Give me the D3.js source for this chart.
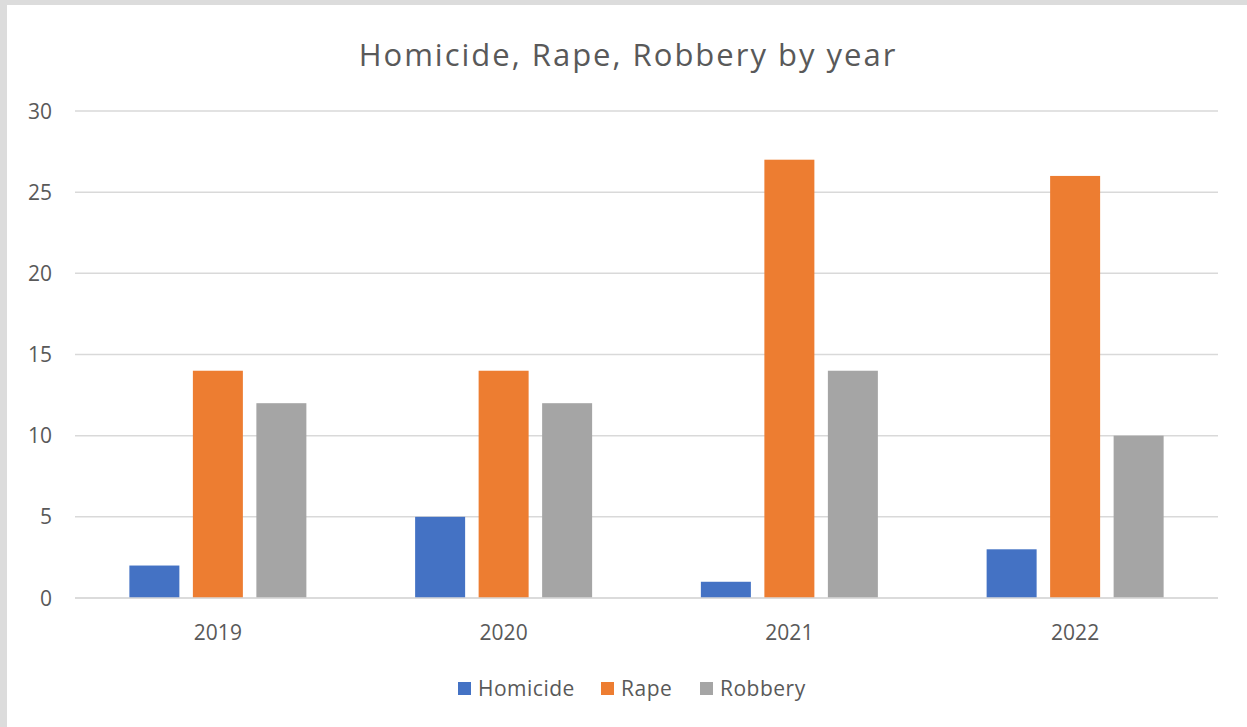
<!DOCTYPE html>
<html><head><meta charset="utf-8">
<script src="https://cdn.jsdelivr.net/npm/d3@7"></script>
<style>body{margin:0;background:#fff;}svg{display:block;}</style>
</head><body>
<svg id="c" width="1247" height="727"></svg>
<script>
const categories = ["2019","2020","2021","2022"];
const seriesNames = ["Homicide","Rape","Robbery"];
const homicide = [2,5,1,3];
const rape = [14,14,27,26];
const robbery = [12,12,14,10];
const yTicks = [0,5,10,15,20,25,30];
const colors = ["#4472C4","#ED7D31","#A5A5A5"];
const values = [homicide, rape, robbery];

(function(){
const svg = d3.select("#c");
const W = 1247, H = 727;
svg.append("rect").attr("width",W).attr("height",H).attr("fill","#dcdcdc");
svg.append("rect").attr("x",7).attr("y",5).attr("width",W-7).attr("height",H-5).attr("fill","#fff");

const font = "'Open Sans', 'Liberation Sans', sans-serif";
const pL = 75, pR = 1218, pT = 111, pB = 598;
const x = d3.scaleBand().domain(categories).range([pL,pR]);
const y = d3.scaleLinear().domain([0,30]).range([pB,pT]);

svg.append("g").selectAll("line").data(yTicks).join("line")
  .attr("x1",pL).attr("x2",pR)
  .attr("y1",d=>y(d)).attr("y2",d=>y(d))
  .attr("stroke","#d9d9d9").attr("stroke-width",1.5);

svg.append("g").selectAll("text").data(yTicks).join("text")
  .attr("x",52).attr("y",d=>y(d)).attr("dy","0.36em")
  .attr("text-anchor","end").attr("font-family",font).attr("font-size",21)
  .attr("fill","#595959").text(d=>d);

const barW = 50, gap = 13.5;
const groupW = 3*barW + 2*gap;
const xs = d3.scaleBand().domain(seriesNames).range([0,groupW]).paddingInner(gap/(barW+gap));
seriesNames.forEach((s,si)=>{
  svg.append("g").selectAll("rect").data(categories).join("rect")
    .attr("x",(c)=>x(c)+x.bandwidth()/2-groupW/2+xs(s))
    .attr("width",xs.bandwidth())
    .attr("y",(c,i)=>y(values[si][i]))
    .attr("height",(c,i)=>y(0)-y(values[si][i]))
    .attr("fill",colors[si]);
});

svg.append("line").attr("x1",pL).attr("x2",pR).attr("y1",y(0)).attr("y2",y(0))
  .attr("stroke","#d9d9d9").attr("stroke-width",1.5);

svg.append("g").selectAll("text").data(categories).join("text")
  .attr("x",c=>x(c)+x.bandwidth()/2).attr("y",640)
  .attr("text-anchor","middle").attr("font-family",font).attr("font-size",21)
  .attr("fill","#595959").text(c=>c);

svg.append("text").attr("x",628).attr("y",66).attr("text-anchor","middle")
  .attr("font-family",font).attr("font-size",31).attr("letter-spacing",2)
  .attr("fill","#595959")
  .text("Homicide, Rape, Robbery by year");

const legX = [458, 601, 700];
const lg = svg.append("g");
seriesNames.forEach((s,i)=>{
  lg.append("rect").attr("x",legX[i]).attr("y",682).attr("width",13).attr("height",13).attr("fill",colors[i]);
  lg.append("text").attr("x",legX[i]+20).attr("y",696).attr("font-family",font).attr("font-size",21)
    .attr("letter-spacing",0.5).attr("fill","#595959").text(s);
});
})();
</script>
</body></html>
